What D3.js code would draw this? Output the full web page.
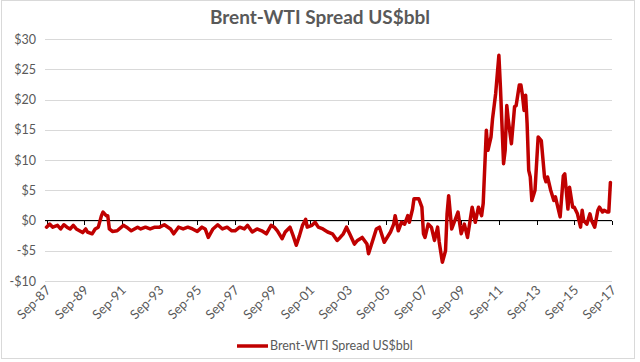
<!DOCTYPE html>
<html>
<head>
<meta charset="utf-8">
<script src="https://cdn.jsdelivr.net/npm/d3@7"></script>
<style>
  body { margin: 0; background: #fff; }
  text { font-family: Lato, "Liberation Sans", sans-serif; fill: #595959; }
</style>
</head>
<body>
<main></main>
<script>
// Brent-WTI spread, monthly readings (US$/bbl)

const chartTitle = "Brent-WTI Spread US$bbl";
const seriesName = "Brent-WTI Spread US$bbl";

const dates = [
  "1987-09","1987-11","1988-01","1988-04","1988-06","1988-08","1988-10","1988-12",
  "1989-02","1989-04","1989-08","1989-10","1989-11","1990-02","1990-04","1990-06",
  "1990-08","1990-09","1990-11","1990-12","1991-01","1991-03","1991-06","1991-10",
  "1991-12","1992-03","1992-07","1992-09","1992-12","1993-03","1993-06","1993-09",
  "1993-12","1994-04","1994-06","1994-09","1994-12","1995-03","1995-06","1995-09",
  "1995-12","1996-02","1996-04","1996-07","1996-10","1997-01","1997-04","1997-07",
  "1997-09","1997-12","1998-03","1998-05","1998-08","1998-11","1999-02","1999-05",
  "1999-08","1999-10","1999-12","2000-03","2000-05","2000-08","2000-10","2000-12",
  "2001-02","2001-04","2001-06","2001-07","2001-10","2001-12","2002-02","2002-05",
  "2002-08","2002-11","2003-02","2003-04","2003-06","2003-08","2003-10","2004-01",
  "2004-03","2004-06","2004-09","2004-10","2005-01","2005-03","2005-05","2005-08",
  "2005-12","2006-02","2006-03","2006-05","2006-07","2006-09","2006-11","2006-12",
  "2007-02","2007-03","2007-06","2007-08","2007-09","2007-10","2007-12","2008-02",
  "2008-04","2008-06","2008-07","2008-09","2008-11","2008-12","2009-01","2009-03",
  "2009-05","2009-07","2009-09","2009-11","2010-01","2010-04","2010-06","2010-08",
  "2010-10","2010-11","2011-01","2011-02","2011-04","2011-05","2011-07","2011-09",
  "2011-10","2011-12","2012-01","2012-02","2012-03","2012-05","2012-07","2012-08",
  "2012-10","2012-11","2012-12","2013-01","2013-02","2013-03","2013-04","2013-05",
  "2013-06","2013-08","2013-10","2013-12","2014-02","2014-03","2014-04","2014-06",
  "2014-08","2014-09","2014-10","2014-12","2015-02","2015-03","2015-05","2015-06",
  "2015-08","2015-09","2015-11","2016-01","2016-02","2016-03","2016-05","2016-07",
  "2016-08","2016-10","2016-12","2017-01","2017-03","2017-04","2017-06","2017-07",
  "2017-08"
];

const spread = [
  -1.1,-0.6,-1.1,-0.8,-1.4,-0.7,-1.1,-1.4,
  -0.8,-1.4,-2.0,-1.4,-1.9,-2.2,-1.4,-1.1,
   0.8, 1.4, 0.8, 0.8,-1.4,-1.8,-1.7,-0.8,
  -1.1,-1.7,-1.1,-1.4,-1.1,-1.4,-1.1,-1.1,
  -0.7,-1.4,-2.2,-1.1,-1.4,-1.1,-1.4,-1.8,
  -1.1,-1.4,-2.8,-1.4,-0.7,-1.4,-1.1,-1.7,
  -1.7,-1.1,-1.4,-0.8,-1.9,-1.4,-1.7,-2.2,
  -0.8,-1.1,-1.7,-3.0,-1.9,-1.1,-2.5,-4.1,
  -2.5,-0.8, 0.2,-1.1,-0.8,-0.3,-1.1,-1.4,
  -1.9,-2.2,-3.3,-2.8,-2.2,-1.1,-2.2,-3.9,
  -3.3,-2.8,-3.9,-5.5,-3.0,-1.4,-1.1,-3.6,
  -1.9,-0.6, 0.8,-1.7,-0.3,-0.6, 0.8,-0.3,
   1.9, 3.6, 3.6, 2.2,-2.2,-2.8,-0.6,-1.1,
  -3.3,-1.1,-3.5,-6.9,-5.0, 1.1, 4.1,-1.4,
   0.0, 1.4,-2.2,-0.6,-2.8, 2.2,-0.3, 2.2,
   0.8, 2.8,14.9,11.6,13.8,16.8,21.0,27.3,
  22.0, 9.4,11.6,19.0,16.6,12.7,18.8,19.0,
  22.4,22.4,20.7,18.2,20.7,16.0, 8.3, 7.2,
   3.3, 5.0,13.8,13.2, 7.2, 6.4, 7.2, 5.0,
   3.3, 3.9, 2.8, 0.6, 7.4, 7.7, 1.9, 5.5,
   2.2, 2.2, 1.1,-1.1, 1.7, 0.0,-0.6, 1.1,
   0.0,-1.1, 1.7, 2.2, 1.4, 1.7, 1.4, 1.4,
   6.3
];

const yTicks = [-10, -5, 0, 5, 10, 15, 20, 25, 30];
const xTickLabels = ["Sep-87","Sep-89","Sep-91","Sep-93","Sep-95","Sep-97","Sep-99","Sep-01",
                     "Sep-03","Sep-05","Sep-07","Sep-09","Sep-11","Sep-13","Sep-15","Sep-17"];

let width = 640,
    height = 362;

let lineRed = "#C00000";
let gridGray = "#D9D9D9";

let parseMonth = d3.timeParse("%Y-%m");
let parseLabel = d3.timeParse("%b-%y");

let points = dates.map((d, i) => ({ date: parseMonth(d), value: spread[i] }));
let tickDates = xTickLabels.map(parseLabel);

let x = d3.scaleTime()
  .domain([tickDates[0], tickDates[tickDates.length - 1]])
  .range([46.5, 612]);

let y = d3.scaleLinear()
  .domain([-10, 30])
  .range([281, 39]);

let svg = d3.select("main").append("svg")
  .attr("width", width)
  .attr("height", height);

svg.append("rect")
  .attr("width", width).attr("height", height)
  .attr("fill", "#fff");

// chart area border
svg.append("rect")
  .attr("x", 1.5).attr("y", 0.5)
  .attr("width", 633).attr("height", 358)
  .attr("fill", "none")
  .attr("stroke", gridGray);

svg.append("text")
  .attr("x", 320).attr("y", 24)
  .attr("text-anchor", "middle")
  .style("font-size", "19px")
  .style("font-weight", "bold")
  .text(chartTitle);

// gridlines + y labels
let yAxis = d3.axisLeft(y)
  .tickValues(yTicks)
  .tickSize(-(612 - 45))
  .tickPadding(9)
  .tickFormat(v => (v < 0 ? "-$" : "$") + Math.abs(v));

svg.append("g")
  .attr("transform", "translate(45,0)")
  .call(yAxis)
  .call(g => g.select(".domain").remove())
  .call(g => g.selectAll("line").attr("stroke", gridGray).attr("shape-rendering", "crispEdges"))
  .call(g => g.selectAll("text").style("font-size", "12.5px").style("font-family", "Lato, sans-serif").attr("fill", "#595959"));

// zero axis with ticks
let xAxis = d3.axisBottom(x)
  .tickValues(tickDates)
  .tickSize(4)
  .tickFormat("");

svg.append("g")
  .attr("transform", `translate(0,${y(0)})`)
  .call(xAxis)
  .call(g => g.select(".domain").attr("d", `M45,0H612`).attr("stroke", "#000"))
  .call(g => g.selectAll("line").attr("stroke", "#000"))
  .attr("shape-rendering", "crispEdges");

// x labels at the bottom, rotated
svg.append("g")
  .selectAll("text")
  .data(tickDates)
  .join("text")
  .attr("transform", (d) => `translate(${x(d) + 5},${291}) rotate(-45)`)
  .attr("text-anchor", "end")
  .style("font-size", "13px")
  .text((d, i) => xTickLabels[i]);

let line = d3.line()
  .x(d => x(d.date))
  .y(d => y(d.value));

svg.append("path")
  .datum(points)
  .attr("fill", "none")
  .attr("stroke", lineRed)
  .attr("stroke-width", 3.5)
  .attr("stroke-linejoin", "round")
  .attr("stroke-linecap", "round")
  .attr("d", line);

// legend
let legend = svg.append("g").attr("transform", "translate(237,346)");
legend.append("line")
  .attr("x1", 0).attr("x2", 31)
  .attr("stroke", lineRed)
  .attr("stroke-width", 3.5);
legend.append("text")
  .attr("x", 33).attr("y", 4)
  .style("font-size", "12.5px")
  .text(seriesName);
</script>
</body>
</html>
